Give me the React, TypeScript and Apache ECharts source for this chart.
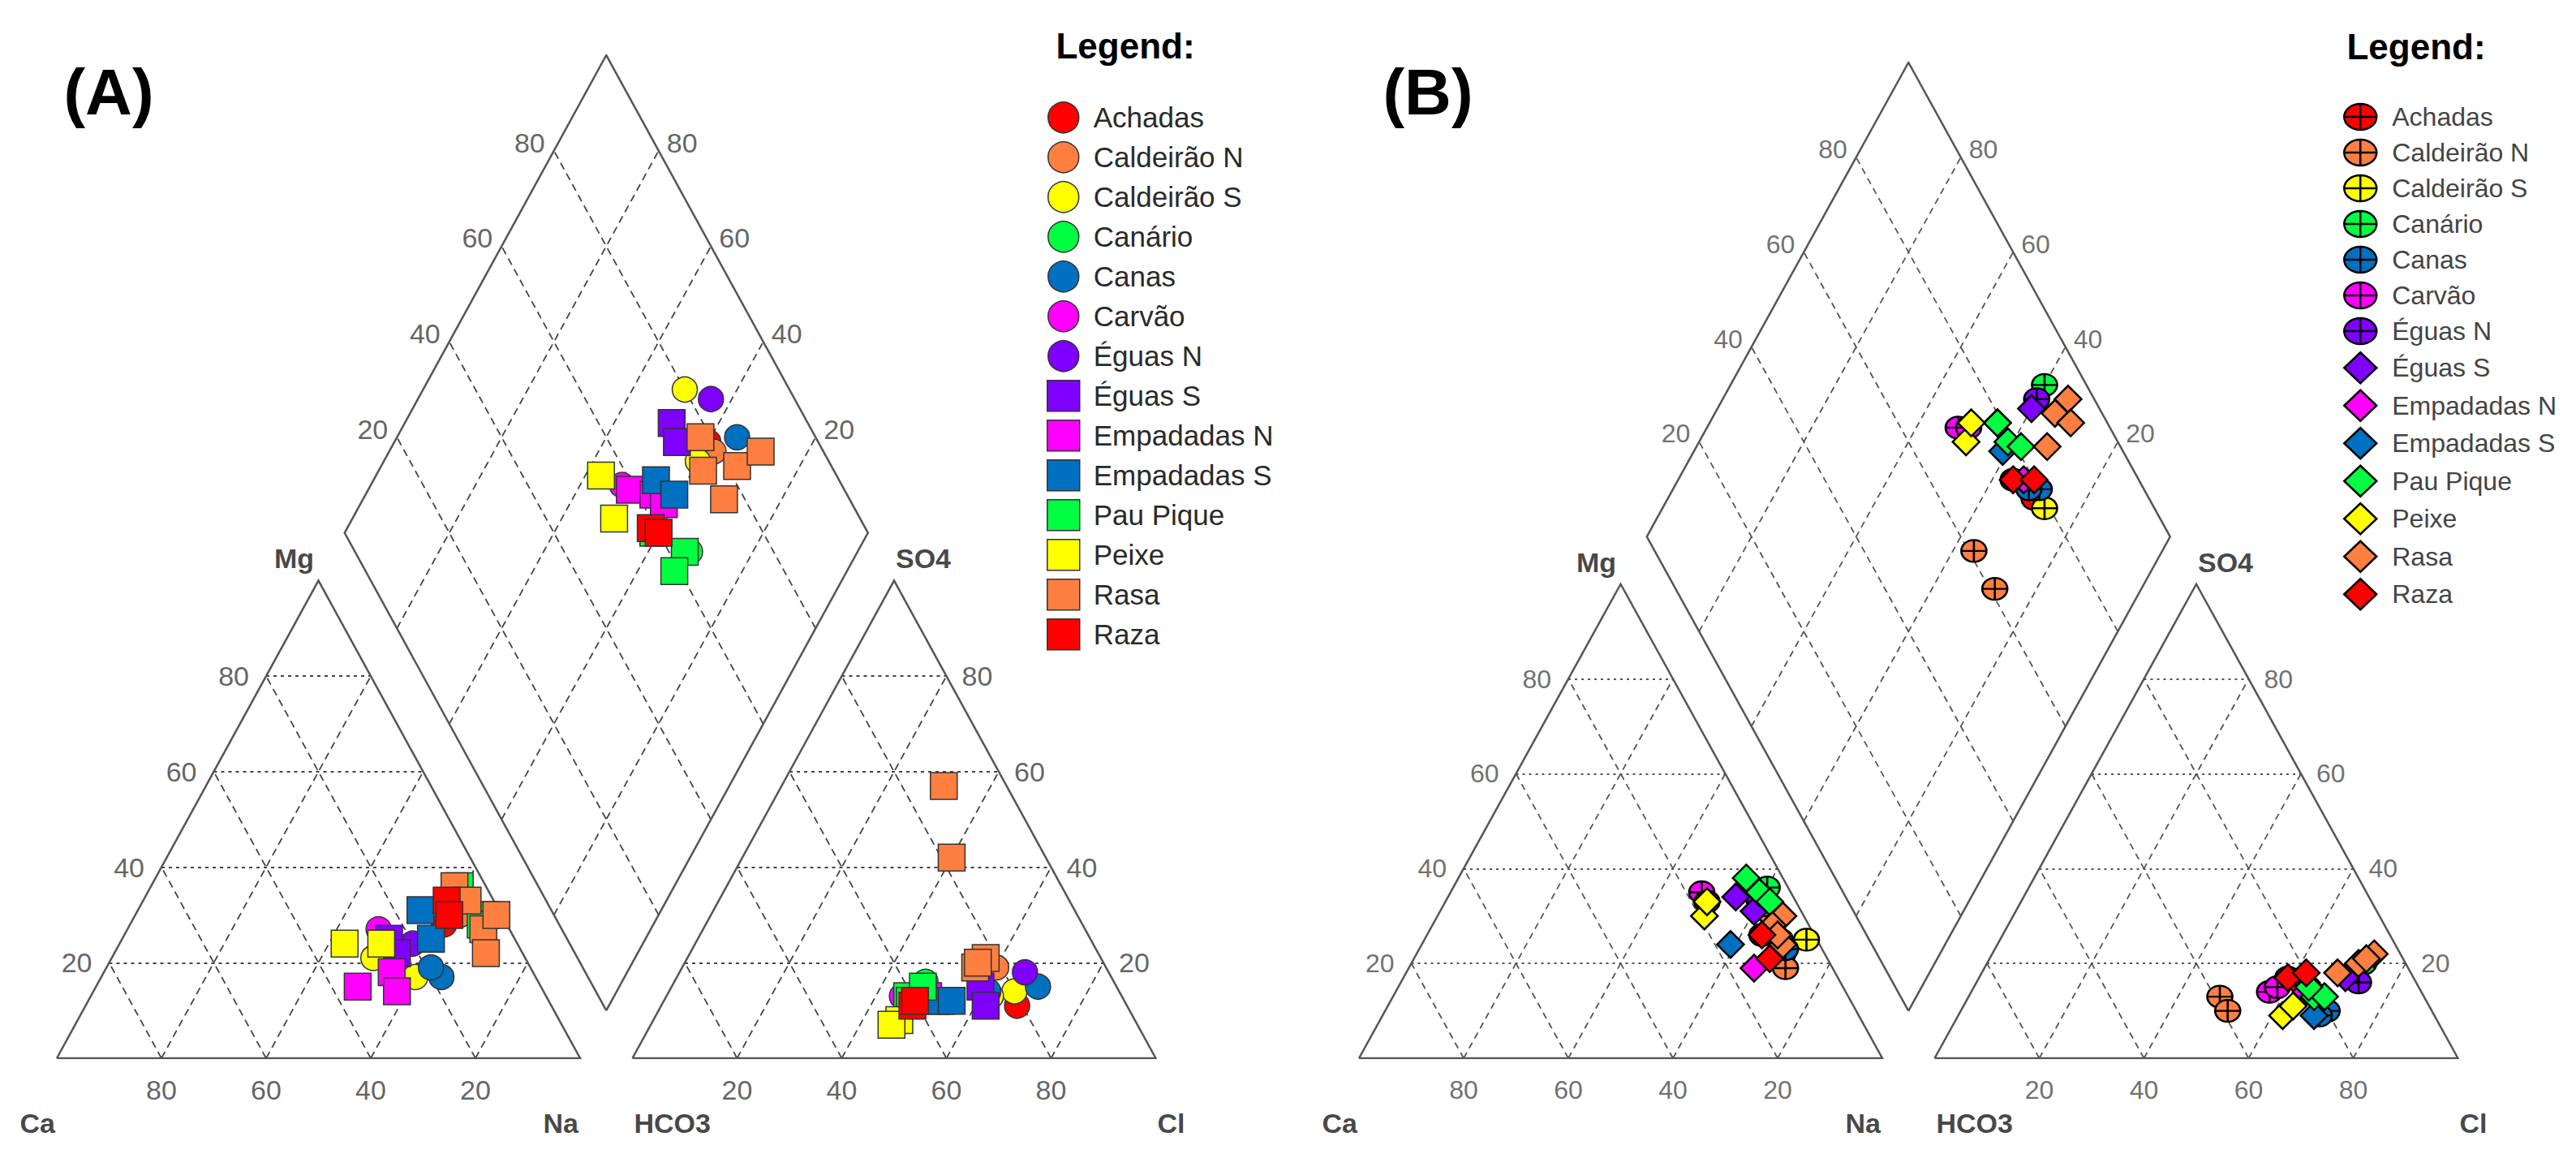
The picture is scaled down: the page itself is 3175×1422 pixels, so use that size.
import { useEffect, useRef } from "react";
import * as echarts from "echarts";

// ---------------- data ----------------
const groups = [
  "Achadas", "Caldeirão N", "Caldeirão S", "Canário", "Canas", "Carvão", "Éguas N",
  "Éguas S", "Empadadas N", "Empadadas S", "Pau Pique", "Peixe", "Rasa", "Raza",
];
const groupColors = [
  "#FF0000", "#FF7F40", "#FFFF00", "#00FF40", "#0070C0", "#FF00FF", "#7F00FF",
  "#7F00FF", "#FF00FF", "#0070C0", "#00FF40", "#FFFF00", "#FF7F40", "#FF0000",
];
const tickValues = [20, 40, 60, 80];
const cornerNames = ["Ca", "Na", "Mg", "HCO3", "Cl", "SO4"];

// Each sample: [Mg %, Na+K %, SO4 %, Cl %]  (Ca = 100-Mg-Na, HCO3 = 100-SO4-Cl)
const samplesA: number[][][] = [
  [[28, 60, 11, 68]],
  [[30, 62, 19, 60]],
  [[21, 50, 14, 66], [17, 60, 13, 62]],
  [[30, 68, 16, 48]],
  [[17, 65, 15, 70], [19, 62, 14, 61]],
  [[27, 48, 13, 45]],
  [[24, 56, 18, 66]],
  [[25, 51, 15, 59], [22, 54, 11, 62]],
  [[15, 50, 12, 47], [18, 55, 13, 50], [14, 58, 12, 52]],
  [[31, 54, 12, 53], [25, 59, 12, 55]],
  [[36, 59, 13, 46], [30, 67, 15, 48], [28, 67, 12, 47]],
  [[24, 43, 8, 47], [24, 50, 7, 46]],
  [[36, 58, 21, 57], [33, 62, 19, 56], [27, 68, 42, 40], [22, 71, 57, 31], [30, 69, 20, 56]],
  [[33, 58, 11, 48], [30, 60, 12, 48]],
];
const samplesB: number[][][] = [
  [[26, 64, 17, 59], [22, 70, 16, 62]],
  [[30, 64, 13, 48], [19, 72, 10, 51]],
  [[25, 73, 14, 65]],
  [[36, 60, 20, 72]],
  [[23, 70, 10, 70], [25, 68, 9, 69]],
  [[35, 48, 14, 57], [33, 50, 15, 58]],
  [[33, 60, 16, 73]],
  [[34, 55, 16, 63], [31, 60, 17, 70]],
  [[19, 66, 14, 64]],
  [[24, 59, 9, 68]],
  [[35, 59, 13, 66], [33, 62, 13, 68], [38, 55, 15, 64]],
  [[30, 51, 9, 62], [33, 50, 11, 63]],
  [[30, 66, 22, 73], [28, 65, 20, 71], [24, 69, 21, 72], [26, 67, 18, 68]],
  [[26, 64, 17, 59], [21, 68, 18, 62]],
];

// ---------------- geometry (Piper) ----------------
const H = Math.sqrt(3) / 2;
const GAP = 10;
const AX0 = 100 + GAP;
const DB = [105, GAP * H];
const DL = [55, GAP * H + 100 * H];
const DR = [155, GAP * H + 100 * H];
const DT = [105, GAP * H + 200 * H];
const Y_MAX = DT[1];

const cationXY = (mg: number, na: number) => [na + mg / 2, mg * H];
const anionXY = (so4: number, cl: number) => [AX0 + cl + so4 / 2, so4 * H];
const diamondXY = (na: number, so4cl: number) => {
  const camg = 100 - na;
  return [105 - camg / 2 + so4cl / 2, GAP * H + (camg + so4cl) * H];
};

const CROSS_CIRCLE =
  "path://M0,40A50,40,0,1,1,100,40A50,40,0,1,1,0,40Z M0,40L100,40 M50,0L50,80";

const panels = [
  {
    left: 70, top: 68, width: 1354.5, height: 1236, samples: samplesA,
    symbols: groups.map((_, i) => (i < 7 ? "circle" : "rect")),
    sizes: groups.map((_, i) => (i < 7 ? 31 : 33)),
    border: "#333", borderW: 1.5,
    tickFont: 34, tickColor: "#3a3a3a", nameFont: 34,
    hDash: [4, 5], dDash: [9, 6], gridColor: "#444",
  },
  {
    left: 1675, top: 77, width: 1354.5, height: 1227, samples: samplesB,
    symbols: groups.map((_, i) => (i < 7 ? CROSS_CIRCLE : "diamond")),
    sizes: groups.map((_, i) => (i < 7 ? [31, 27] : [33, 33])),
    border: "#000", borderW: 2.5,
    tickFont: 32, tickColor: "#4a4a4a", nameFont: 34,
    hDash: [3, 5], dDash: [8, 6], gridColor: "#555",
  },
];

function triGrid(x0: number) {
  const h: number[][][] = [];
  const d: number[][][] = [];
  for (const t of tickValues) {
    h.push([[x0 + t / 2, t * H], [x0 + 100 - t / 2, t * H]]);
    d.push([[x0 + t, 0], [x0 + t + (100 - t) / 2, (100 - t) * H]]);
    d.push([[x0 + 100 - t, 0], [x0 + (100 - t) / 2, (100 - t) * H]]);
  }
  return { h, d };
}

function diamondGrid() {
  const d: number[][][] = [];
  for (const t of tickValues) {
    d.push([[DB[0] + t / 2, DB[1] + t * H], [DB[0] + t / 2 - 50, DB[1] + t * H + 100 * H]]);
    d.push([[DB[0] - t / 2, DB[1] + t * H], [DB[0] - t / 2 + 50, DB[1] + t * H + 100 * H]]);
  }
  return d;
}

function labelSeries(p: number, items: { name: string; value: number[] }[], label: any) {
  return {
    type: "scatter", xAxisIndex: p, yAxisIndex: p, silent: true,
    symbol: "circle", symbolSize: 2, itemStyle: { color: "rgba(0,0,0,0)" }, z: 4,
    label: { show: true, position: "inside", formatter: "{b}", ...label },
    data: items,
  };
}

function buildOption() {
  const grid: any[] = [];
  const xAxis: any[] = [];
  const yAxis: any[] = [];
  const series: any[] = [];

  panels.forEach((pn, p) => {
    grid.push({ left: pn.left, top: pn.top, width: pn.width, height: pn.height, outerBoundsMode: "none" });
    xAxis.push({ type: "value", gridIndex: p, min: 0, max: 210, show: false });
    yAxis.push({ type: "value", gridIndex: p, min: 0, max: Y_MAX, show: false });

    const cat = triGrid(0);
    const an = triGrid(AX0);
    const base = { type: "lines", coordinateSystem: "cartesian2d", xAxisIndex: p, yAxisIndex: p, silent: true };
    series.push({
      ...base, z: 1,
      lineStyle: { color: pn.gridColor, width: 1.8, type: pn.dDash, opacity: 1 },
      data: [...cat.d, ...an.d, ...diamondGrid()].map((c) => ({ coords: c })),
    });
    series.push({
      ...base, z: 1,
      lineStyle: { color: pn.gridColor, width: 2, type: pn.hDash, opacity: 1 },
      data: [...cat.h, ...an.h].map((c) => ({ coords: c })),
    });
    series.push({
      ...base, z: 2, polyline: true,
      lineStyle: { color: "#555", width: 2.5, opacity: 1, join: "miter" },
      data: [
        { coords: [[0, 0], [100, 0], [50, 100 * H], [0, 0]] },
        { coords: [[AX0, 0], [AX0 + 100, 0], [AX0 + 50, 100 * H], [AX0, 0]] },
        { coords: [DB, DR, DT, DL, DB] },
      ],
    });

    // tick labels
    const tl = { fontSize: pn.tickFont, color: pn.tickColor, fontFamily: "Liberation Sans" };
    series.push(labelSeries(p,
      tickValues.map((t) => ({ name: String(100 - t), value: [t, 0] }))
        .concat(tickValues.map((t) => ({ name: String(t), value: [AX0 + t, 0] }))),
      { ...tl, align: "center", verticalAlign: "middle", offset: [0, 39] }));
    series.push(labelSeries(p,
      tickValues.map((t) => ({ name: String(t), value: cationXY(t, 0) })),
      { ...tl, align: "right", verticalAlign: "middle", offset: [-21, 0] }));
    series.push(labelSeries(p,
      tickValues.map((t) => ({ name: String(t), value: [AX0 + 100 - t / 2, t * H] })),
      { ...tl, align: "left", verticalAlign: "middle", offset: [19, 0] }));
    series.push(labelSeries(p,
      tickValues.map((t) => ({ name: String(t), value: [DL[0] + t / 2, DL[1] + t * H] })),
      { ...tl, align: "right", verticalAlign: "middle", offset: [-11, -10] }));
    series.push(labelSeries(p,
      tickValues.map((t) => ({ name: String(t), value: [DR[0] - t / 2, DR[1] + t * H] })),
      { ...tl, align: "left", verticalAlign: "middle", offset: [10, -10] }));

    // corner names
    const nl = { fontSize: pn.nameFont, fontWeight: "bold", color: "#151515", fontFamily: "Liberation Sans" };
    series.push(labelSeries(p, [{ name: cornerNames[0], value: [0, 0] }, { name: cornerNames[1], value: [100, 0] }],
      { ...nl, align: "right", verticalAlign: "middle", offset: [-2, 80] }));
    series.push(labelSeries(p, [{ name: cornerNames[3], value: [AX0, 0] }, { name: cornerNames[4], value: [AX0 + 100, 0] }],
      { ...nl, align: "left", verticalAlign: "middle", offset: [2, 80] }));
    series.push(labelSeries(p, [{ name: cornerNames[2], value: [50, 100 * H] }],
      { ...nl, align: "center", verticalAlign: "middle", offset: [-30, -27] }));
    series.push(labelSeries(p, [{ name: cornerNames[5], value: [AX0 + 50, 100 * H] }],
      { ...nl, align: "center", verticalAlign: "middle", offset: [36, -27] }));

    // sample points
    groups.forEach((g, i) => {
      const pts: number[][] = [];
      pn.samples[i].forEach(([mg, na, so4, cl]) => {
        pts.push(cationXY(mg, na));
        pts.push(anionXY(so4, cl));
        pts.push(diamondXY(na, so4 + cl));
      });
      series.push({
        type: "scatter", name: g, xAxisIndex: p, yAxisIndex: p, z: 5,
        symbol: pn.symbols[i], symbolSize: pn.sizes[i],
        itemStyle: { color: groupColors[i], borderColor: pn.border, borderWidth: pn.borderW, opacity: 1 },
        data: pts,
      });
    });
  });

  const legendCommon = {
    orient: "vertical", itemWidth: 40, itemHeight: 38, selectedMode: false,
    textStyle: { fontFamily: "Liberation Sans", lineHeight: 38 },
  };

  return {
    animation: false,
    backgroundColor: "#ffffff",
    grid, xAxis, yAxis, series,
    legend: [
      {
        ...legendCommon, left: 1285, top: 120, itemGap: 9.5,
        data: groups.map((g, i) => ({ name: g, icon: panels[0].symbols[i] })),
        itemStyle: { borderColor: "#333", borderWidth: 1.5 },
        textStyle: { ...legendCommon.textStyle, fontSize: 35, color: "#2a2a2a", padding: [0, 0, 0, 12] },
      },
      {
        ...legendCommon, left: 2883, top: 120, itemGap: 6,
        data: groups.map((g, i) => ({ name: g, icon: panels[1].symbols[i] })),
        itemStyle: { borderColor: "#000", borderWidth: 2.5 },
        textStyle: { ...legendCommon.textStyle, fontSize: 32, color: "#444", padding: [0, 0, 0, 14] },
      },
    ],
    graphic: [
      { type: "text", x: 134, y: 113, style: { text: "(A)", textAlign: "center", textVerticalAlign: "middle", font: "bold 80px 'Liberation Sans'", fill: "#000" } },
      { type: "text", x: 1760, y: 113, style: { text: "(B)", textAlign: "center", textVerticalAlign: "middle", font: "bold 80px 'Liberation Sans'", fill: "#000" } },
      { type: "text", x: 1387, y: 56, style: { text: "Legend:", textAlign: "center", textVerticalAlign: "middle", font: "bold 44px 'Liberation Sans'", fill: "#000" } },
      { type: "text", x: 2978, y: 57, style: { text: "Legend:", textAlign: "center", textVerticalAlign: "middle", font: "bold 44px 'Liberation Sans'", fill: "#000" } },
    ],
  };
}

export default function App() {
  const ref = useRef<HTMLDivElement>(null);
  useEffect(() => {
    const chart = echarts.init(ref.current!, null, { renderer: "svg" });
    chart.setOption(buildOption() as any);
    return () => chart.dispose();
  }, []);
  return (
    <div
      ref={ref}
      style={{ position: "absolute", left: 0, top: 0, width: 3175, height: 1422, background: "#fff" }}
    />
  );
}
